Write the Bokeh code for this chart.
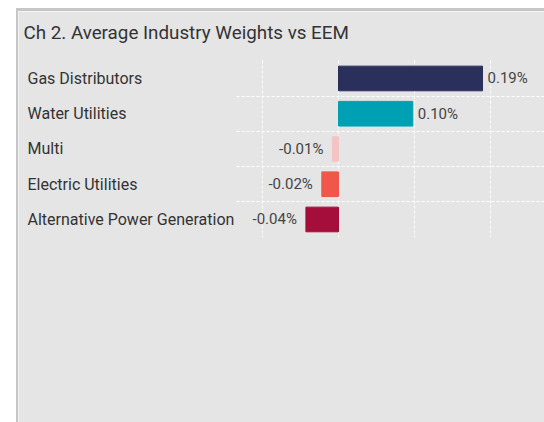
from bokeh.plotting import figure
from bokeh.models import ColumnDataSource, Range1d, FixedTicker, LabelSet, Label
from bokeh.core.properties import value
from bokeh.embed import file_html
from bokeh.resources import INLINE

title_text = "Ch 2. Average Industry Weights vs EEM"
industries = ["Gas Distributors", "Water Utilities", "Multi",
              "Electric Utilities", "Alternative Power Generation"]
weights = [0.19, 0.098, -0.008, -0.022, -0.043]
value_labels = ["0.19%", "0.10%", "-0.01%", "-0.02%", "-0.04%"]
bar_colors = ["#2b2f5c", "#00a0b4", "#f4c4c4", "#f0564a", "#a50d3a"]
x_ticks = [-0.1, 0.0, 0.1, 0.2]

FONT = "Roboto"
PANEL = "#e5e5e5"

pos = list(range(len(industries)))
src = ColumnDataSource(dict(
    pos=pos,
    name=industries,
    w=weights,
    label=value_labels,
    color=bar_colors,
    align=["left" if w >= 0 else "right" for w in weights],
    xoff=[5 if w >= 0 else -9 for w in weights],
))

X0, X1 = -0.4222, 0.2744
p = figure(width=528, height=414, output_backend="svg", toolbar_location=None,
           x_range=Range1d(X0, X1),
           y_range=Range1d(9.845, -1.90),
           min_border=0)
p.margin = (8, 0, 0, 16)
p.styles = {"border-left": "2px solid #c6c6c6", "border-top": "3px solid #c6c6c6"}
p.background_fill_color = PANEL
p.border_fill_color = PANEL
p.outline_line_color = None
p.xaxis.visible = False
p.yaxis.visible = False

p.xgrid.ticker = FixedTicker(ticks=x_ticks)
p.xgrid.cross_bounds = (-0.5, len(industries) - 0.5)
p.ygrid.ticker = FixedTicker(ticks=[i + 0.5 for i in pos[:-1]])
p.ygrid.cross_bounds = (-0.135, X1)
for g in (p.xgrid, p.ygrid):
    g.grid_line_color = "white"
    g.grid_line_dash = "3 2"
    g.grid_line_width = 1

p.hbar(y="pos", left=0, right="w", height=0.7, color="color", source=src)

p.text(x="w", y="pos", text="label", source=src, text_align="align",
       x_offset="xoff", text_baseline="middle", text_font=value(FONT),
       text_font_size="15px", text_color="#444444")

names = LabelSet(x=9, y="pos", x_units="screen", y_units="data", text="name",
                 source=src, text_align="left", text_baseline="middle",
                 text_font=value(FONT), text_font_size="16px", text_color="#333333")
p.add_layout(names)

title = Label(x=5, y=393, x_units="screen", y_units="screen", text=title_text,
              text_align="left", text_baseline="middle", text_font=FONT,
              text_font_size="18.8px", text_color="#333333")
p.add_layout(title)

open("out.html", "w").write(file_html(p, INLINE))
